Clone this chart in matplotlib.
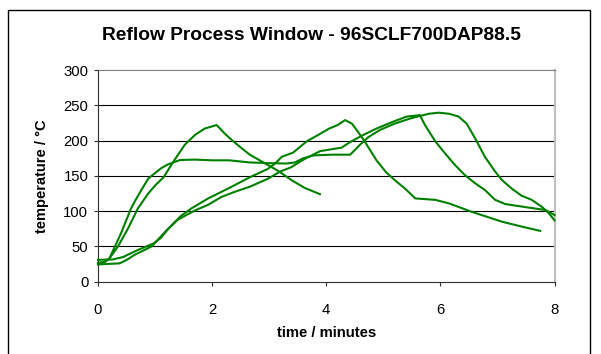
import matplotlib
matplotlib.use("Agg")
import matplotlib.pyplot as plt
from matplotlib.patches import Rectangle

plt.rcParams['font.family'] = ['Liberation Sans', 'DejaVu Sans']

title = "Reflow Process Window - 96SCLF700DAP88.5"
xlabel = "time / minutes"
ylabel = "temperature / °C"
xticks = [0, 2, 4, 6, 8]
yticks = [0, 50, 100, 150, 200, 250, 300]

# Profile A: fast ramp, early peak
a_t = [0, 0.12, 0.2, 0.35, 0.53, 0.70, 0.88, 1.02, 1.15, 1.32, 1.52, 1.70, 1.87,
       2.08, 2.22, 2.34, 2.52, 2.66, 2.92, 3.16, 3.39, 3.62, 3.89]
a_T = [27, 28, 33, 50, 76, 104, 125, 138, 148, 170, 194, 208, 217,
       222, 210, 201, 189, 180, 168, 157, 144, 133, 124]

# Profile B: fast ramp, soak plateau, late peak
b_t = [0, 0.1, 0.2, 0.4, 0.58, 0.66, 0.76, 0.88, 1.0, 1.11, 1.22, 1.32, 1.44,
       1.7, 2.0, 2.3, 2.66, 3.0, 3.3, 3.45, 3.6, 3.78, 4.1, 4.42, 4.59, 4.74,
       4.94, 5.2, 5.5, 5.8, 5.97, 6.15, 6.32, 6.46, 6.61, 6.78, 6.96, 7.08,
       7.25, 7.42, 7.6, 7.78, 7.9, 8.0]
b_T = [25, 27, 33, 68, 104, 116, 130, 146, 154, 161, 166, 169, 172.5,
       173, 172, 172, 169, 168, 167.5, 169, 175, 179, 180, 180, 194, 205,
       215, 224, 232, 238, 239.5, 238, 234, 224, 203, 177, 156, 144,
       132, 122, 116, 106, 97, 87]

# Profile C: slow ramp, mid peak
c_t = [0, 0.26, 0.44, 0.70, 0.97, 1.1, 1.23, 1.45, 1.64, 1.93, 2.28, 2.66, 2.98,
       3.11, 3.22, 3.42, 3.66, 3.86, 4.05, 4.2, 4.33, 4.45, 4.56, 4.68, 4.88,
       5.05, 5.2, 5.38, 5.56, 5.91, 6.15, 6.55, 7.08, 7.43, 7.75]
c_T = [31, 31.5, 35, 45, 54, 62, 75, 93, 104, 118, 132, 148, 160,
       168, 177, 183, 199, 208, 217, 222, 229, 224, 212, 198, 172,
       155, 144, 132, 118, 116, 111, 99, 85, 78, 72]

# Profile D: slow ramp, peak near 5.6 min
d_t = [0, 0.38, 0.5, 0.64, 0.94, 1.17, 1.40, 1.70, 1.93, 2.16, 2.40, 2.66, 2.98,
       3.19, 3.38, 3.6, 3.89, 4.27, 4.42, 4.65, 4.88, 5.18, 5.41, 5.64, 5.73,
       5.91, 6.08, 6.26, 6.43, 6.6, 6.78, 6.96, 7.14, 7.55, 7.84, 8.0]
d_T = [24.5, 26, 30.7, 38, 50, 70, 88, 101, 109, 120, 127.5, 134.6, 146,
       156, 162, 173, 185, 190, 198, 208, 217, 227, 234, 236, 222,
       199, 182, 165, 151, 140, 130, 116, 110, 105, 101.6, 94.5]

series = [(a_t, a_T), (b_t, b_T), (c_t, c_T), (d_t, d_T)]
green = '#008000'

W, H = 601, 354
fig = plt.figure(figsize=(W / 100, H / 100), dpi=100)
fig.patch.set_facecolor('white')

# outer chart frame
fig.patches.append(Rectangle((8 / W, -0.05), (590 - 8) / W, (H - 10) / H + 0.05,
                             transform=fig.transFigure, fill=False,
                             edgecolor='black', linewidth=1.0))

ax = fig.add_axes([98 / W, (H - 281.7) / H, (554.5 - 98) / W, (281.7 - 70) / H])

for t, T in series:
    ax.plot(t, T, color=green, linewidth=1.5, solid_joinstyle='round', clip_on=False)

ax.set_xlim(0, 8)
ax.set_ylim(0, 300)
ax.set_xticks(xticks)
ax.set_yticks(yticks)
for y in yticks[1:-1]:
    ax.axhline(y, color='black', linewidth=0.8, zorder=0)

ax.spines['left'].set_color('#303030')
ax.spines['bottom'].set_color('#303030')
ax.spines['top'].set_color('#808080')
ax.spines['right'].set_color('#c0c0c0')
ax.spines['right'].set_linewidth(1.6)
for s in ax.spines.values():
    s.set_zorder(1)

ax.tick_params(axis='both', direction='out', length=3, width=0.8, color='#303030',
               labelsize=10.7)
ax.tick_params(axis='x', pad=12.5)
ax.tick_params(axis='y', pad=4)

ax.set_xlabel(xlabel, fontsize=10.7, fontweight='bold', labelpad=6)
ax.set_ylabel(ylabel, fontsize=10.5, fontweight='bold', labelpad=10)
fig.text(311 / W, 1 - 35.5 / H, title, fontsize=13.8, fontweight='bold',
         ha='center', va='center')

fig.savefig('out.png', dpi=100)
